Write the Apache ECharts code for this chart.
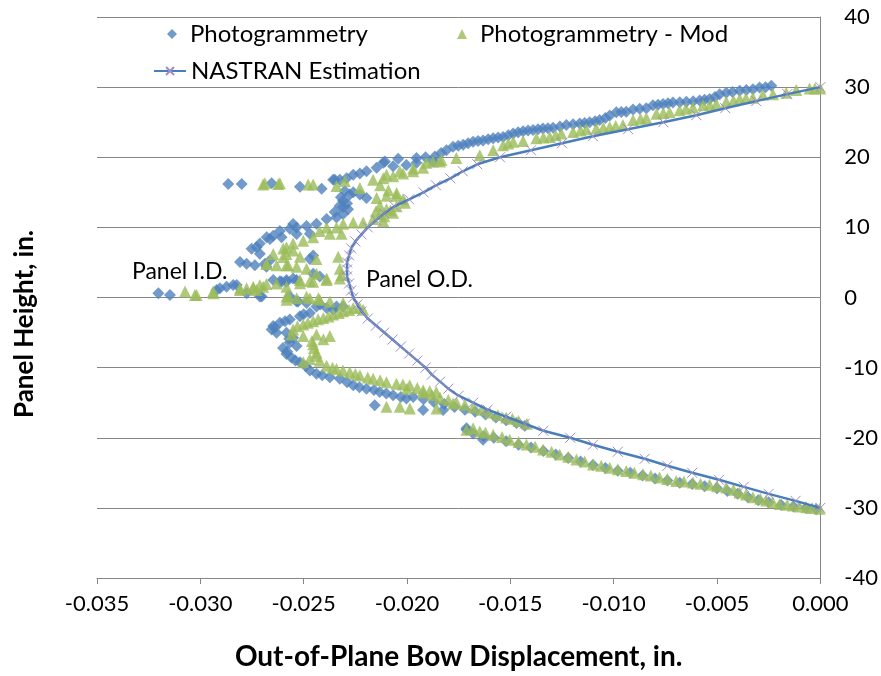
<!DOCTYPE html>
<html>
<head>
<meta charset="utf-8">
<script src="https://cdn.jsdelivr.net/npm/echarts@6/dist/echarts.min.js"></script>
<style>
  html, body { margin: 0; padding: 0; background: #fff; }
  #main { width: 881px; height: 676px; }
</style>
</head>
<body>
<div id="main"></div>
<script>
// photogrammetry, blue diamonds  [displacement, height]
var photoUpper = [
  [-0.00237,30.2],[-0.00265,30.0],[-0.00294,29.95],[-0.00326,29.7],[-0.00358,29.6],[-0.0039,29.5],[-0.00425,29.3],
  [-0.00455,29.2],[-0.00487,29.0],[-0.0051,28.6],[-0.00536,28.3],[-0.0056,28.2],[-0.00584,28.1],[-0.00615,28.0],
  [-0.00648,27.9],[-0.0068,27.85],[-0.00713,27.8],[-0.00737,27.7],[-0.00761,27.6],[-0.00785,27.5],[-0.0081,27.4],
  [-0.00842,27.0],[-0.00874,26.9],[-0.00906,26.8],[-0.00939,26.5],[-0.00963,26.45],[-0.00987,26.4],[-0.01019,25.96],
  [-0.0104,25.6],[-0.01068,25.3],[-0.0109,25.15],[-0.01116,25.0],[-0.0114,24.9],[-0.01164,24.8],[-0.01196,24.7],
  [-0.01229,24.6],[-0.0126,24.4],[-0.01293,24.2],[-0.01318,24.15],[-0.01342,24.1],[-0.01366,24.0],[-0.0139,23.9],
  [-0.01414,23.8],[-0.01438,23.7],[-0.01462,23.55],[-0.01486,23.4],[-0.0151,23.15],[-0.01535,22.9],[-0.01559,22.8],
  [-0.01583,22.7],[-0.01607,22.55],[-0.01632,22.4],[-0.01656,22.3],[-0.0168,22.2],[-0.01704,22.0],[-0.01728,21.8],
  [-0.01752,21.65],[-0.01777,21.5],[-0.01809,21.0],[-0.01835,20.6],[-0.01865,20.1],[-0.01874,19.4],[-0.0191,20.0],
  [-0.01954,19.9],[-0.01954,19.2],[-0.02003,18.9],[-0.02043,19.8],[-0.02067,18.7],[-0.02107,19.4],[-0.02115,19.2],
  [-0.02147,18.5],[-0.02196,18.0],[-0.02228,17.7],[-0.0226,17.5],[-0.02292,17.0],[-0.02325,16.8],[-0.02357,16.8]
];
var photoMid = [
  [-0.02865,16.2],[-0.028,16.2],[-0.02655,16.3],[-0.02518,15.8],[-0.02413,15.5],[-0.02349,16.8],
  [-0.02301,15.2],[-0.02277,14.7],[-0.02228,14.7],[-0.02196,14.2],[-0.02309,13.8],[-0.02325,13.1],[-0.02285,12.6],
  [-0.02309,11.9],[-0.02341,11.4],[-0.02389,11.2],[-0.02438,10.5],[-0.02486,10.2],[-0.02535,10.0],[-0.02567,9.8],
  [-0.02615,9.5],[-0.02647,8.8],[-0.02679,8.6],[-0.02712,7.7],[-0.0247,9.1],[-0.02454,6.0],[-0.0247,5.5],
  [-0.02454,3.4],[-0.02422,3.0],[-0.02663,5.3],[-0.02687,4.8],[-0.02551,2.7],[-0.02583,2.5],[-0.02615,2.3],
  [-0.02551,10.47],[-0.02534,9.06],[-0.02607,8.59],[-0.02663,8.36],[-0.02728,7.18],[-0.02752,6.95],[-0.02712,6.24],
  [-0.02808,5.07],[-0.02776,4.83],[-0.02736,4.6],[-0.0268,4.37],[-0.02647,2.49],[-0.02607,2.25],[-0.02583,2.25],
  [-0.02534,2.49],[-0.0226,15.0],[-0.0232,14.3],[-0.0229,13.4],[-0.0235,12.2],[-0.0231,12.9]
];
var photoLeft = [
  [-0.02841,1.78],[-0.02873,1.55],[-0.02905,1.31],[-0.02921,1.08],[-0.03147,0.37],[-0.03203,0.61],[-0.02824,1.8],
  [-0.02776,0.6],[-0.02703,0.14],[-0.02567,0.14],[-0.02527,-0.56],[-0.02712,0.14]
];
var photoLower = [
  [-0.02534,-0.56],[-0.02486,-0.8],[-0.02438,-1.27],[-0.02389,-1.5],[-0.02341,-1.27],[-0.02309,-1.27],[-0.02357,-1.74],
  [-0.0247,-2.21],[-0.02518,-2.68],[-0.02567,-3.14],[-0.02615,-3.61],[-0.02647,-4.08],[-0.02655,-4.55],[-0.02631,-5.02],
  [-0.02583,-5.02],[-0.02551,-5.73],[-0.02567,-6.43],[-0.02534,-6.9],[-0.02583,-8.07],[-0.02559,-8.54],[-0.02518,-9.25],
  [-0.0247,-10.42],[-0.02438,-10.89],[-0.02373,-11.36],[-0.02325,-11.6],[-0.0226,-12.53],[-0.02196,-13.0],[-0.02132,-13.47],
  [-0.02067,-13.94],[-0.02003,-14.41],[-0.02156,-15.35],[-0.0242,-1.0],[-0.025,-2.4],[-0.0259,-3.4],[-0.0264,-4.3],
  [-0.0257,-5.9],[-0.026,-7.2],[-0.0258,-7.7],[-0.0254,-9.0],[-0.0249,-9.8],[-0.0241,-11.1],[-0.0229,-12.1],
  [-0.0223,-12.8],[-0.0216,-13.2],[-0.021,-13.7],[-0.0203,-14.2],
  [-0.0197,-14.2],[-0.0192,-14.5],[-0.0187,-14.9],[-0.0182,-15.2],[-0.0177,-15.6],[-0.0172,-16.0],[-0.0167,-16.3],
  [-0.0162,-16.7],[-0.0157,-17.1],[-0.0152,-17.5],[-0.0147,-17.9],[-0.0143,-18.3],
  [-0.01922,-16.06],[-0.01825,-16.06],[-0.01712,-18.64],[-0.01632,-20.28],[-0.01712,-18.87],
  [-0.0168,-19.4],[-0.0163,-19.8],[-0.0158,-20.0],[-0.0152,-20.5],[-0.0146,-21.0],[-0.014,-21.4],[-0.0134,-21.9],
  [-0.0128,-22.4],[-0.0122,-22.9],[-0.0116,-23.4],[-0.011,-23.9],[-0.0104,-24.3],[-0.0098,-24.7],[-0.0092,-25.0],
  [-0.0086,-25.4],[-0.008,-25.8],[-0.0074,-26.1],[-0.0068,-26.4],[-0.0062,-26.6],[-0.0056,-26.9],[-0.005,-27.2],
  [-0.0045,-27.6],[-0.004,-28.0],[-0.0035,-28.5],[-0.003,-28.9],[-0.0025,-29.2],[-0.0019,-29.6],[-0.0013,-29.8],
  [-0.0007,-30.0],[-0.0002,-30.2]
];

// photogrammetry - mod, green triangles
var modUpper = [
  [0.0,29.8],[-0.00026,29.8],[-0.00052,29.8],[-0.00116,29.6],[-0.00165,29.2],[-0.00229,29.0],[-0.00278,28.9],
  [-0.00326,28.5],[-0.0036,28.4],[-0.0039,28.3],[-0.0042,28.1],[-0.00455,27.9],[-0.00503,27.6],[-0.00535,27.5],
  [-0.00568,27.4],[-0.00616,27.1],[-0.0065,26.9],[-0.00681,26.7],[-0.00729,26.4],[-0.0076,26.3],[-0.00793,26.2],
  [-0.00842,25.6],[-0.0087,25.5],[-0.00906,25.3],[-0.00955,24.6],[-0.0099,24.45],[-0.01019,24.3],[-0.0105,24.2],
  [-0.01084,24.1],[-0.01132,24.0],[-0.0116,23.8],[-0.01196,23.6],[-0.01253,23.4],[-0.0128,23.15],[-0.01309,22.9],
  [-0.0134,22.8],[-0.01374,22.7],[-0.01438,22.3],[-0.01486,22.2],[-0.0151,21.95],[-0.01535,21.7],[-0.01583,21.0],
  [-0.01648,20.3],[-0.01761,19.9],[-0.01833,19.6],[-0.01841,19.4],[-0.01874,19.4],[-0.01906,19.2],[-0.01922,18.5],
  [-0.0197,18.4],[-0.0197,18.0],[-0.02019,17.7],[-0.02035,18.0],[-0.02067,17.3],[-0.02099,17.5],[-0.02115,17.0],
  [-0.02164,16.8]
];
var modMid = [
  [-0.02696,16.1],[-0.02623,16.2],[-0.02688,16.3],[-0.02615,16.3],[-0.02478,16.1],[-0.02454,16.1],[-0.02341,15.9],
  [-0.02301,16.6],[-0.02228,15.6],
  [-0.02147,14.2],[-0.02099,14.5],[-0.02051,14.5],[-0.02019,14.0],[-0.02131,13.1],[-0.02099,12.6],[-0.02067,12.1],
  [-0.02131,11.9],[-0.02164,11.2],[-0.02115,10.9],[-0.02212,10.7],[-0.0226,10.7],[-0.02309,10.5],[-0.02341,10.0],
  [-0.02389,10.0],[-0.02422,9.5],[-0.02373,9.1],[-0.02317,9.1],[-0.02454,8.6],[-0.02502,8.1],[-0.02551,7.7],
  [-0.02599,7.0],[-0.02647,6.2],[-0.02583,6.2],[-0.02518,5.8],[-0.02438,5.5],[-0.02583,4.6],[-0.02534,4.4],
  [-0.02486,4.1],[-0.02438,3.4],[-0.02389,2.7],[-0.02333,5.8],[-0.02325,4.1],[-0.02317,3.2],[-0.02518,2.5],
  [-0.0247,2.3],[-0.02679,4.8],[-0.02583,7.18],[-0.02551,6.71],[-0.02599,5.77],[-0.0268,4.83],[-0.02631,4.6],
  [-0.02575,4.6],[-0.0213,16.0],[-0.0209,15.3],[-0.0205,14.9],[-0.0201,13.5],[-0.0205,13.0],[-0.0208,12.4],
  [-0.0215,12.3],[-0.0211,11.6]
];
var modLeft = [
  [-0.03074,0.84],[-0.03026,0.37],[-0.02938,0.84],[-0.02808,1.3],[-0.02744,1.3],[-0.02696,1.55],[-0.02631,2.0],
  [-0.02776,1.31],[-0.02744,1.55],[-0.02712,1.78],[-0.0268,1.92],[-0.02808,1.08],[-0.02937,0.61],[-0.03018,0.37],
  [-0.02575,0.37],[-0.02583,0.14],[-0.0247,-0.09],[-0.02422,-0.33],[-0.02373,-0.56],[-0.02309,-0.8],
  [-0.02518,2.02],[-0.02454,2.25],[-0.02389,2.49],[-0.02325,2.72],[-0.02583,1.55],[-0.02728,1.08],[-0.02583,-0.33],
  [-0.02534,-0.09],[-0.02486,0.14],[-0.02429,-0.09]
];
var modLower = [
  [-0.02212,-1.74],[-0.0226,-1.5],[-0.02309,-1.97],[-0.02357,-2.44],[-0.02405,-2.91],[-0.02454,-3.38],[-0.02502,-3.85],
  [-0.02551,-4.55],[-0.02559,-5.26],[-0.0223,-1.4],[-0.0228,-1.8],[-0.0233,-2.2],[-0.0238,-2.7],[-0.0243,-3.1],
  [-0.0248,-3.6],[-0.0253,-4.1],
  [-0.02502,-5.49],[-0.02438,-5.26],[-0.02373,-5.49],[-0.02405,-5.96],[-0.02454,-6.67],[-0.02438,-7.84],[-0.0247,-8.78],
  [-0.02422,-9.01],[-0.02502,-9.25],[-0.02389,-9.72],[-0.02341,-10.19],[-0.02277,-10.66],[-0.02228,-11.13],[-0.02164,-11.6],
  [-0.02099,-12.07],[-0.02051,-12.3],[-0.01987,-12.53],[-0.01922,-13.24],[-0.01858,-13.47],[-0.0245,-7.2],[-0.0246,-6.2],
  [-0.0244,-8.3],[-0.0236,-10.0],[-0.0231,-10.4],[-0.0225,-10.9],[-0.0219,-11.4],[-0.0213,-11.8],[-0.0202,-12.4],
  [-0.0195,-12.9],[-0.0189,-13.35],
  [-0.02,-13.0],[-0.0192,-13.6],[-0.0184,-14.3],[-0.0176,-15.0],[-0.0168,-15.7],[-0.016,-16.4],[-0.0152,-17.1],
  [-0.0146,-17.6],[-0.0142,-18.0],[-0.0188,-13.9],[-0.018,-14.6],[-0.0172,-15.3],[-0.0164,-16.0],[-0.0156,-16.8],
  [-0.0149,-17.3],
  [-0.02099,-15.59],[-0.02035,-15.59],[-0.01986,-15.82],[-0.01857,-15.82],[-0.01777,-15.12],
  [-0.0168,-18.64],[-0.01712,-18.87],[-0.01648,-19.1],[-0.01583,-19.57],[-0.01503,-20.28],[-0.01422,-20.98],[-0.01342,-21.69],
  [-0.01261,-22.39],[-0.0118,-23.09],[-0.011,-23.8],[-0.01019,-24.27],[-0.00939,-24.74],[-0.00858,-25.21],[-0.00778,-25.68],
  [-0.00697,-26.15],[-0.00616,-26.38],[-0.00536,-26.71],[-0.00455,-27.09],[-0.00391,-27.79],[-0.00326,-28.49],[-0.00262,-28.96],
  [-0.00197,-29.43],[-0.00133,-29.67],[-0.00068,-29.9],[-0.00003,-30.14],
  [-0.0162,-19.3],[-0.0154,-19.9],[-0.0146,-20.6],[-0.0138,-21.3],[-0.013,-22.0],[-0.0122,-22.7],[-0.0114,-23.4],
  [-0.0106,-24.0],[-0.0098,-24.5],[-0.009,-25.0],[-0.0082,-25.4],[-0.0074,-25.9],[-0.0066,-26.25],[-0.0058,-26.55],
  [-0.005,-26.9],[-0.0042,-27.4],[-0.0036,-28.1],[-0.0029,-28.7],[-0.0023,-29.2],[-0.0016,-29.55],[-0.001,-29.8],
  [-0.0004,-30.0]
];

// NASTRAN estimation, one point per inch of height
var nastranHeight = [
  -30,-29,-28,-27,-26,-25,-24,-23,-22,-21,-20,-19,-18,-17,-16,-15,-14,-13,-12,-11,-10,
  -9,-8,-7,-6,-5,-4,-3,-2,-1,0,1,2,3,4,5,6,7,8,9,10,
  11,12,13,14,15,16,17,18,19,20,21,22,23,24,25,26,27,28,29,30
];
var nastranDisp = [
  0,-0.0012,-0.0025,-0.0037,-0.0049,-0.0062,-0.0074,-0.0085,-0.0098,-0.011,-0.0121,-0.0134,-0.0143,-0.0152,-0.0161,-0.0168,-0.0175,-0.018,-0.0184,-0.0188,-0.0191,
  -0.0195,-0.0199,-0.0203,-0.0207,-0.0211,-0.0215,-0.0219,-0.0222,-0.0224,-0.0226,-0.0227,-0.0228,-0.0229,-0.0229,-0.0229,-0.0228,-0.0227,-0.0225,-0.0222,-0.0219,
  -0.0215,-0.0211,-0.0206,-0.0199,-0.0192,-0.0186,-0.0179,-0.0173,-0.0166,-0.0155,-0.014,-0.0125,-0.011,-0.0093,-0.0076,-0.006,-0.0046,-0.0031,-0.0016,0
];

var xTicks = { min: -0.035, max: 0, step: 0.005 };
var yTicks = { min: -40, max: 40, step: 10 };

var FONT = 'Lato';
var GRID = '#868686';

var myChart = echarts.init(document.getElementById('main'));

var nastranPts = nastranHeight.map(function (h, i) { return [nastranDisp[i], h]; });

option = {
    backgroundColor: '#fff',
    animation: false,
    textStyle: { fontFamily: FONT },
    grid: { left: 97, right: 60, top: 17, bottom: 91 },
    legend: [
        { data: ['Photogrammetry'], left: 167, top: 22, padding: 0, itemWidth: 10, itemHeight: 10,
          textStyle: { fontSize: 24, color: '#000', fontFamily: FONT, padding: [0, 0, 0, 8] } },
        { data: ['Photogrammetry - Mod'], left: 457, top: 22, padding: 0, itemWidth: 10, itemHeight: 10,
          textStyle: { fontSize: 24, color: '#000', fontFamily: FONT, padding: [0, 0, 0, 8] } },
        { data: ['NASTRAN Estimation'], left: 153, top: 59, padding: 0, itemWidth: 32, itemHeight: 10,
          textStyle: { fontSize: 24, color: '#000', fontFamily: FONT } }
    ],
    xAxis: [
        {
            type: 'value', min: xTicks.min, max: xTicks.max, interval: xTicks.step,
            position: 'bottom',
            axisLine: { show: false }, axisTick: { show: false }, splitLine: { show: false },
            axisLabel: { margin: 15, fontSize: 22, color: '#000', fontFamily: FONT,
                         formatter: function (v) { return v.toFixed(3); } },
            name: 'Out-of-Plane Bow Displacement, in.',
            nameLocation: 'middle', nameGap: 65,
            nameTextStyle: { fontSize: 28, fontWeight: 'bold', color: '#000', fontFamily: FONT }
        },
        {
            // the axis line itself sits at height 0
            type: 'value', min: xTicks.min, max: xTicks.max, interval: xTicks.step,
            position: 'bottom',
            axisLine: { show: true, onZero: true, lineStyle: { color: GRID, width: 1 } },
            axisTick: { show: true, length: 6, lineStyle: { color: GRID } },
            axisLabel: { show: false }, splitLine: { show: false }
        }
    ],
    yAxis: [
        {
            type: 'value', min: yTicks.min, max: yTicks.max, interval: yTicks.step,
            position: 'right',
            axisLine: { show: true, lineStyle: { color: GRID, width: 1 } },
            axisTick: { show: false },
            axisLabel: { margin: 24, fontSize: 22, color: '#000', fontFamily: FONT },
            splitLine: { show: true, lineStyle: { color: GRID, width: 1 } }
        }
    ],
    graphic: [
        {
            type: 'text', x: 25, y: 324, rotation: Math.PI / 2,
            style: { text: 'Panel Height, in.', fill: '#000', font: 'bold 26px ' + FONT,
                     textAlign: 'center', textVerticalAlign: 'middle' }
        }
    ],
    series: [
        {
            name: 'Photogrammetry', type: 'scatter',
            symbol: 'diamond', symbolSize: 12,
            itemStyle: { color: '#4F81BD' },
            data: photoUpper.concat(photoMid, photoLeft, photoLower)
        },
        {
            name: 'Photogrammetry - Mod', type: 'scatter',
            symbol: 'triangle', symbolSize: 12,
            itemStyle: { color: '#9BBB59' },
            data: modUpper.concat(modMid, modLeft, modLower)
        },
        {
            name: 'NASTRAN Estimation', type: 'line',
            symbol: 'path://M0,0L10,10M10,0L0,10', symbolSize: 10, showSymbol: true,
            lineStyle: { color: '#4A7EBB', width: 2.5 },
            itemStyle: { color: 'rgba(0,0,0,0)', borderColor: '#A08CC6', borderWidth: 1 },
            data: nastranPts,
            markPoint: {
                symbol: 'rect', symbolSize: 1,
                itemStyle: { color: 'rgba(0,0,0,0)' },
                label: { show: true, position: 'inside', color: '#000', fontSize: 23, fontFamily: FONT,
                         formatter: function (p) { return p.name; } },
                data: [
                    { name: 'Panel I.D.', coord: [-0.0310, 3.66] },
                    { name: 'Panel O.D.', coord: [-0.0194, 2.5] }
                ]
            }
        }
    ]
};
myChart.setOption(option);
</script>
</body>
</html>
